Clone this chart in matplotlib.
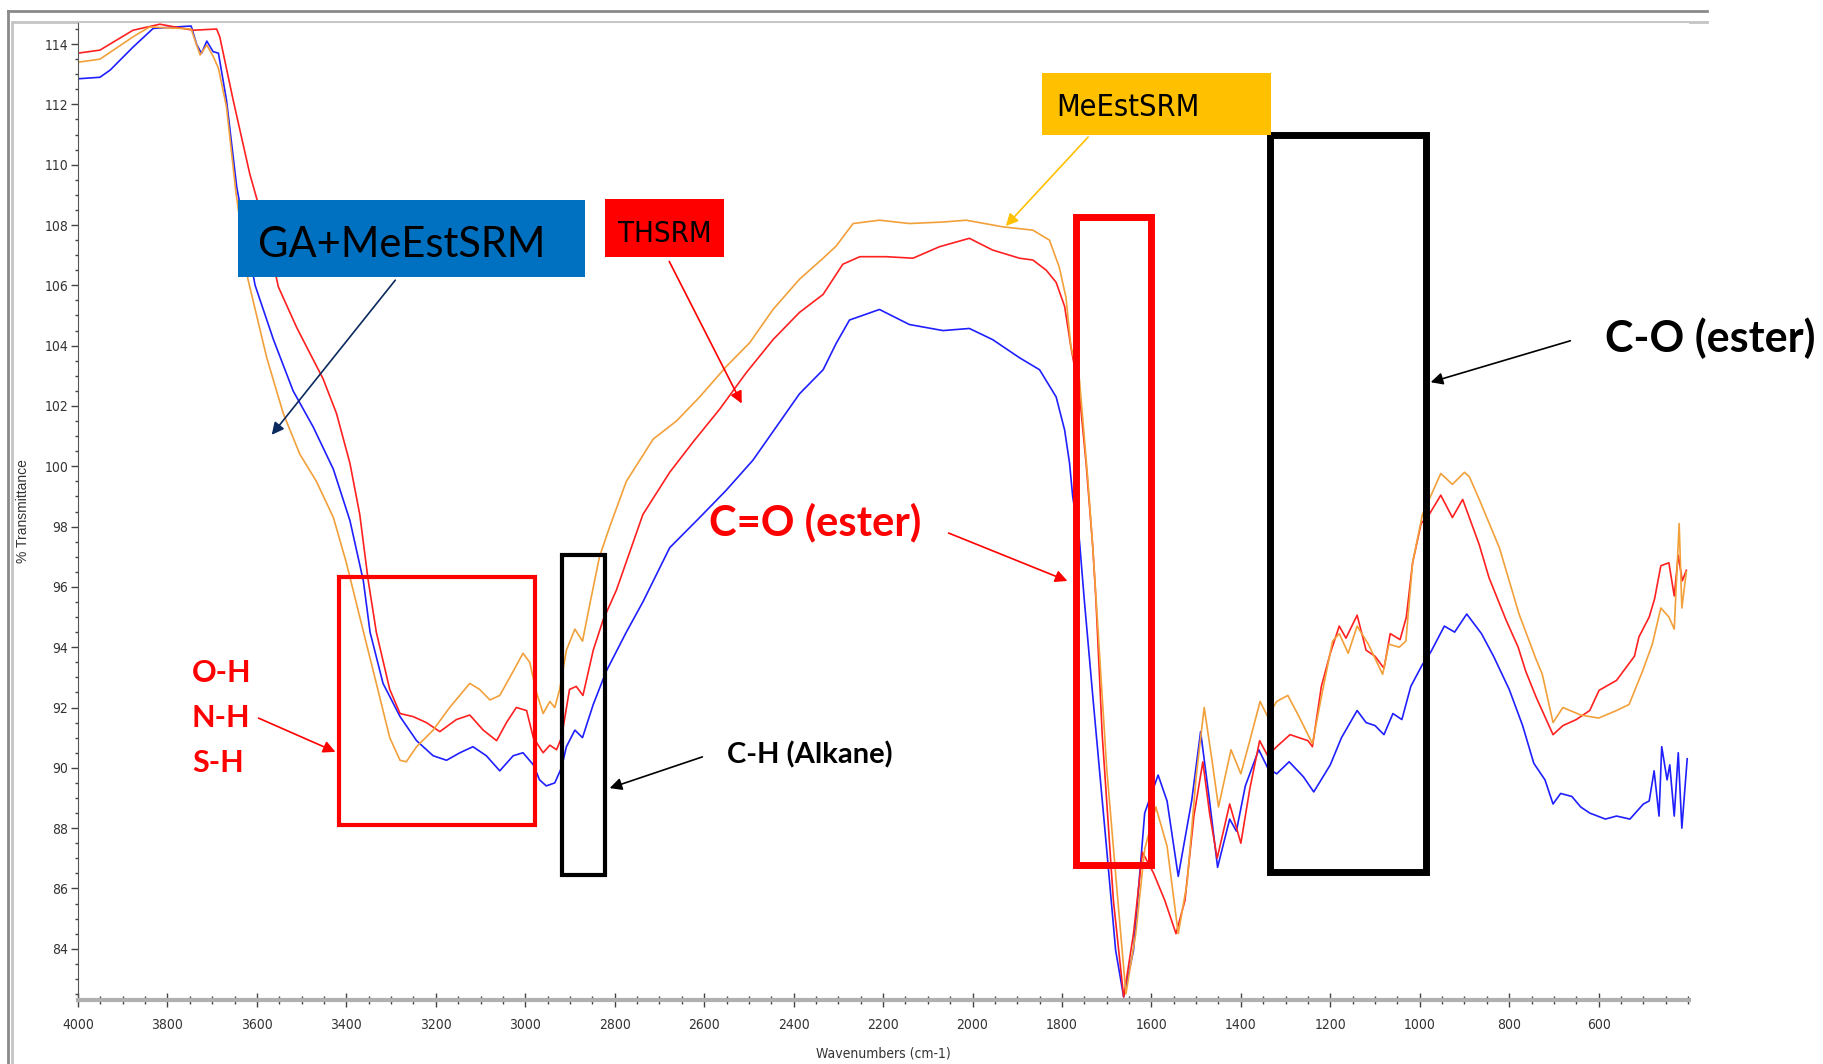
import numpy as np
import matplotlib.pyplot as plt
from matplotlib import font_manager
from matplotlib.patches import Rectangle, FancyArrowPatch
from matplotlib.lines import Line2D
from matplotlib.ticker import MultipleLocator, FixedLocator

W, H = 1823, 1064

# FTIR spectra (wavenumber cm-1, % transmittance)
wn_ga = [4000, 3951, 3928, 3877, 3832, 3802, 3747, 3735, 3724, 3712, 3698, 3686, 3668, 3645, 3604,
         3563, 3519, 3474, 3429, 3392, 3362, 3347, 3318, 3280, 3243, 3206, 3176, 3146, 3117, 3087,
         3057, 3027, 3005, 2982, 2968, 2953, 2934, 2919, 2908, 2889, 2872, 2848, 2819, 2774, 2737,
         2677, 2610, 2551, 2491, 2439, 2387, 2334, 2305, 2275, 2208, 2141, 2066, 2007, 1955, 1895,
         1850, 1813, 1794, 1783, 1776, 1761, 1750, 1730, 1700, 1680, 1662, 1640, 1615, 1585, 1565,
         1540, 1510, 1490, 1470, 1452, 1425, 1410, 1390, 1360, 1340, 1320, 1292, 1260, 1237, 1200,
         1175, 1140, 1120, 1100, 1080, 1060, 1040, 1020, 995, 975, 945, 922, 895, 862, 835, 800,
         770, 745, 720, 702, 685, 660, 640, 620, 585, 560, 530, 500, 487, 476, 465, 459, 447, 441,
         431, 422, 414, 402]
tr_ga = [112.85, 112.9, 113.14, 113.9, 114.52, 114.55, 114.6, 114.0, 113.69, 114.1, 113.75, 113.7, 112.14, 109.25, 106.0,
         104.2, 102.5, 101.3, 99.9, 98.2, 96.2, 94.5, 92.8, 91.7, 90.9, 90.4, 90.25, 90.5, 90.7, 90.4,
         89.9, 90.4, 90.5, 90.1, 89.6, 89.4, 89.5, 90.0, 90.7, 91.25, 91.0, 92.1, 93.2, 94.5, 95.5,
         97.3, 98.3, 99.2, 100.2, 101.3, 102.4, 103.2, 104.07, 104.85, 105.2, 104.7, 104.5, 104.57, 104.2, 103.6,
         103.2, 102.3, 101.2, 100.1, 99.0, 97.55, 95.56, 92.2, 87.3, 83.95, 82.4, 83.95, 88.5, 89.76, 88.9,
         86.4, 88.9, 91.2, 88.9, 86.7, 88.3, 87.9, 89.4, 90.6, 90.0, 89.8, 90.2, 89.7, 89.2, 90.1,
         91.0, 91.9, 91.5, 91.4, 91.1, 91.8, 91.6, 92.7, 93.4, 93.85, 94.7, 94.5, 95.1, 94.45, 93.7, 92.6,
         91.4, 90.15, 89.6, 88.8, 89.15, 89.05, 88.7, 88.5, 88.3, 88.4, 88.3, 88.8, 88.9, 89.9, 88.4, 90.7, 89.6, 90.1,
         88.4, 90.5, 88.0, 90.3]

wn_th = [4000, 3951, 3877, 3817, 3743, 3690, 3683, 3653, 3616, 3578, 3552, 3511, 3452, 3422, 3392,
         3370, 3351, 3333, 3303, 3280, 3251, 3221, 3191, 3154, 3124, 3094, 3064, 3042, 3020, 2997,
         2982, 2960, 2945, 2930, 2919, 2901, 2886, 2871, 2848, 2826, 2796, 2737, 2677, 2625, 2565,
         2506, 2446, 2387, 2334, 2290, 2252, 2193, 2133, 2074, 2007, 1955, 1895, 1865, 1835, 1813,
         1794, 1780, 1761, 1746, 1731, 1724, 1710, 1685, 1662, 1640, 1620, 1595, 1570, 1545, 1525,
         1505, 1485, 1470, 1453, 1425, 1400, 1380, 1358, 1340, 1320, 1290, 1250, 1240, 1220, 1200,
         1180, 1165, 1140, 1120, 1100, 1080, 1066, 1044, 1030, 1016, 997, 979, 953, 927, 904, 867,
         845, 807, 780, 763, 740, 702, 680, 650, 620, 599, 560, 520, 510, 487, 475, 461, 443, 431,
         422, 413, 404]
tr_th = [113.7, 113.8, 114.46, 114.66, 114.46, 114.5, 114.24, 112.14, 109.7, 107.7, 105.95, 104.6, 102.9, 101.75, 100.1,
         98.4, 96.2, 94.5, 92.6, 91.8, 91.7, 91.5, 91.2, 91.6, 91.75, 91.25, 90.9, 91.5, 92.0, 91.9,
         91.0, 90.5, 90.75, 90.6, 91.0, 92.6, 92.7, 92.4, 93.9, 94.9, 95.9, 98.4, 99.8, 100.8, 101.9,
         103.1, 104.2, 105.1, 105.7, 106.7, 106.95, 106.95, 106.9, 107.28, 107.56, 107.17, 106.9, 106.84, 106.5, 106.1,
         105.3, 103.96, 102.4, 100.1, 97.3, 95.56, 91.1, 85.6, 82.4, 84.5, 87.2, 86.5, 85.6, 84.5, 85.6,
         88.4, 90.2, 88.5, 87.0, 88.8, 87.5, 89.3, 90.9, 90.4, 90.7, 91.1, 90.9, 90.7, 92.7, 93.8,
         94.7, 94.3, 95.06, 93.9, 93.7, 93.3, 94.45, 94.25, 95.0, 96.8, 98.1, 98.4, 99.04, 98.3, 98.9, 97.4,
         96.3, 94.9, 94.0, 93.2, 92.35, 91.1, 91.4, 91.6, 91.9, 92.57, 92.9, 93.7, 94.34, 95.0, 95.6, 96.7, 96.8, 95.7,
         97.05, 96.2, 96.55]

wn_me = [4000, 3951, 3877, 3840, 3747, 3727, 3712, 3698, 3686, 3668, 3647, 3620, 3578, 3541, 3504,
         3467, 3429, 3400, 3370, 3333, 3303, 3280, 3266, 3243, 3206, 3169, 3124, 3102, 3079, 3057,
         3027, 3005, 2990, 2975, 2960, 2945, 2934, 2923, 2908, 2889, 2872, 2856, 2834, 2811, 2774,
         2714, 2662, 2610, 2551, 2498, 2446, 2387, 2334, 2305, 2267, 2208, 2141, 2066, 2014, 1932,
         1865, 1828, 1806, 1791, 1780, 1761, 1742, 1731, 1722, 1700, 1675, 1657, 1635, 1615, 1590,
         1565, 1540, 1520, 1500, 1482, 1465, 1450, 1422, 1400, 1380, 1357, 1340, 1320, 1295, 1270,
         1240, 1220, 1195, 1180, 1160, 1140, 1115, 1083, 1069, 1046, 1031, 1016, 994, 979, 953, 927,
         900, 889, 867, 822, 778, 740, 726, 702, 680, 640, 600, 560, 532, 502, 480, 461, 443, 431,
         420, 414, 404]
tr_me = [113.4, 113.5, 114.24, 114.57, 114.5, 113.64, 113.97, 113.6, 113.2, 111.92, 109.1, 106.2, 103.6, 101.75, 100.4,
         99.5, 98.3, 96.8, 95.0, 92.8, 91.0, 90.25, 90.2, 90.7, 91.25, 92.0, 92.8, 92.6, 92.25, 92.4,
         93.2, 93.8, 93.5, 92.5, 91.8, 92.2, 92.0, 92.6, 93.9, 94.6, 94.2, 95.4, 97.0, 98.0, 99.5,
         100.9, 101.5, 102.3, 103.3, 104.1, 105.2, 106.2, 106.9, 107.3, 108.05, 108.16, 108.05, 108.1, 108.16, 107.94,
         107.83, 107.5, 106.6, 105.6, 103.96, 102.9, 99.54, 97.3, 95.2, 90.0, 85.6, 82.5, 84.5, 87.3, 88.7,
         87.4, 84.5, 86.2, 89.7, 92.0, 90.3, 88.7, 90.6, 89.8, 90.9, 92.2, 91.7, 92.2, 92.4, 91.7,
         90.8, 92.35, 94.2, 94.45, 93.8, 94.7, 94.1, 93.1, 94.1, 94.0, 94.2, 96.8, 98.4, 98.9, 99.76, 99.4,
         99.8, 99.65, 98.9, 97.3, 95.1, 93.6, 93.1, 91.5, 92.0, 91.75, 91.65, 91.9, 92.1, 93.2, 94.1, 95.3, 95.0, 94.6,
         98.1, 95.3, 96.5]

# highlighted bands: (wn left, wn right, %T bottom, %T top, colour, width)
bands = [(3416, 2979, 88.12, 96.33, '#ff0000', 3.0),
         (2917, 2821, 86.46, 97.06, '#000000', 3.0),
         (1768, 1602, 86.77, 108.25, '#ff0000', 5.0),
         (1335, 987, 86.54, 110.99, '#000000', 5.0)]

names = {f.name for f in font_manager.fontManager.ttflist}
narrow = 'Liberation Sans Narrow' if 'Liberation Sans Narrow' in names else 'DejaVu Sans'
narrow_kw = dict(family=[narrow, 'DejaVu Sans'], stretch='condensed')
bold = ['Lato', 'DejaVu Sans']


def fx(x, y):
    # pixel position (from top left) -> figure fraction
    return (x / W, 1 - y / H)


fig = plt.figure(figsize=(W / 100, H / 100), dpi=100)
ax = fig.add_axes([78 / W, 1 - 1000 / H, (1689 - 78) / W, (1000 - 23) / H])

ax.plot(wn_ga, tr_ga, color='#1f1fff', lw=1.2)
ax.plot(wn_th, tr_th, color='#ff2020', lw=1.2)
ax.plot(wn_me, tr_me, color='#f2a03a', lw=1.2)

ax.set_xlim(4000, 398)
ax.set_ylim(82.3, 114.7)

ax.xaxis.set_major_locator(FixedLocator(np.arange(4000, 599, -200)))
ax.xaxis.set_minor_locator(MultipleLocator(50))
ax.yaxis.set_minor_locator(MultipleLocator(0.5))
ax.set_yticks(np.arange(84, 115, 2))
ax.set_yticklabels([str(v) for v in range(84, 115, 2)])
ax.set_xticklabels([str(v) for v in range(4000, 599, -200)])

for s in ['top', 'right']:
    ax.spines[s].set_visible(False)
ax.spines['left'].set_color('#555555')
ax.spines['left'].set_linewidth(0.8)
ax.spines['bottom'].set_color('#b0b0b0')
ax.spines['bottom'].set_linewidth(3)

ax.tick_params(axis='y', which='major', direction='out', length=5, width=1, color='#444444', pad=2)
ax.tick_params(axis='y', which='minor', direction='out', length=2.5, width=1, color='#444444')
ax.tick_params(axis='x', which='major', direction='inout', length=10, width=1, color='#444444', pad=8)
ax.tick_params(axis='x', which='minor', direction='inout', length=6, width=1, color='#444444')
for lab in ax.get_xticklabels() + ax.get_yticklabels():
    lab.set_family([narrow, 'DejaVu Sans'])
    lab.set_stretch('condensed')
    lab.set_fontsize(10)
    lab.set_color('#333333')

ax.set_xlabel('Wavenumbers (cm-1)', fontsize=10, color='#333333', **narrow_kw)
ax.xaxis.set_label_coords(0.5, -0.048)
ax.set_ylabel('% Transmittance', family=['Liberation Sans', 'DejaVu Sans'], fontsize=10, color='#333333')
ax.yaxis.set_label_coords(-0.0295, 0.5)

for x0, x1, y0, y1, c, lw in bands:
    ax.add_patch(Rectangle((x0, y0), x1 - x0, y1 - y0, fill=False, edgecolor=c,
                           lw=lw, clip_on=False, zorder=5))

# window-like frame around the plot
for pts, c in [([(8, 11), (1707, 11)], '#8a8a8a'), ([(13, 22), (1707, 22)], '#c4c4c4'),
               ([(8, 11), (8, 1064)], '#8a8a8a'), ([(12, 22), (12, 1064)], '#c4c4c4')]:
    (xa, ya), (xb, yb) = fx(*pts[0]), fx(*pts[1])
    fig.add_artist(Line2D([xa, xb], [ya, yb], color=c, lw=2, transform=fig.transFigure, zorder=-1))

# coloured label boxes
for (x0, y0, x1, y1), c in [((238, 200, 585, 277), '#0070c0'),
                             ((605, 199, 724, 257), '#ff0000'),
                             ((1042, 73, 1271, 135), '#ffc000')]:
    fig.add_artist(Rectangle(fx(x0, y1), (x1 - x0) / W, (y1 - y0) / H, facecolor=c,
                             edgecolor='none', transform=fig.transFigure, zorder=6))

fig.text(*fx(258, 257), 'GA+MeEstSRM', family=bold, fontsize=30, color='black', zorder=7)
fig.text(*fx(618, 242), 'THSRM', fontsize=21, color='black', zorder=7, **narrow_kw)
fig.text(*fx(1056, 116), 'MeEstSRM', fontsize=22, color='black', zorder=7, **narrow_kw)

fig.text(*fx(709, 535), 'C=O (ester)', family=bold, weight='bold', fontsize=30, color='#ff0000')
fig.text(*fx(1605, 352), 'C-O (ester)', family=bold, weight='bold', fontsize=31, color='black')
fig.text(*fx(727, 763), 'C-H (Alkane)', family=bold, weight='bold', fontsize=21, color='black')
for i, s in enumerate(['O-H', 'N-H', 'S-H']):
    fig.text(*fx(192, 682 + 45 * i), s, family=bold, weight='bold', fontsize=22, color='#ff0000')

arrows = [((397, 278), (270, 437), '#0b2a5e'),
          ((668, 259), (743, 406), '#ff0000'),
          ((1090, 135), (1004, 228), '#ffc000'),
          ((946, 532), (1070, 582), '#ff0000'),
          ((1573, 340), (1428, 383), 'black'),
          ((256, 717), (338, 753), '#ff0000'),
          ((705, 756), (607, 789), 'black')]
for a, b, c in arrows:
    fig.add_artist(FancyArrowPatch(fx(*a), fx(*b), transform=fig.transFigure, arrowstyle='-|>',
                                   mutation_scale=18, color=c, lw=1.2, zorder=8))

fig.savefig('out.png', dpi=100, facecolor='white')
